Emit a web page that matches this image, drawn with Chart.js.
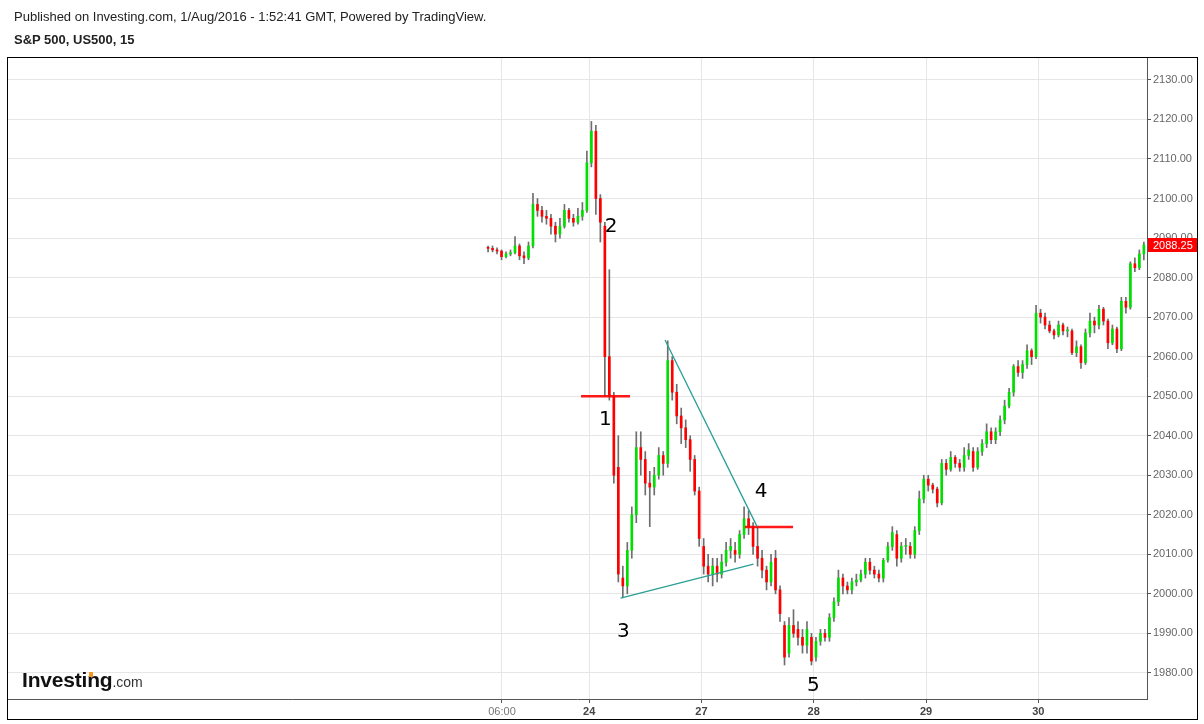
<!DOCTYPE html>
<html>
<head>
<meta charset="utf-8">
<script src="https://cdn.jsdelivr.net/npm/chart.js@4.4.1/dist/chart.umd.min.js"></script>
<style>
  body { margin: 0; background: #fff; font-family: 'Liberation Sans', Arial, sans-serif; }
  #wrap { position: relative; width: 1204px; height: 724px; }
  #chart { position: absolute; left: 0; top: 0; }
  .pub { position: absolute; left: 14px; top: 9px; font-size: 13px; color: #222; }
  .sym { position: absolute; left: 14px; top: 32px; font-size: 13px; font-weight: bold; color: #222; }
  .logo { position: absolute; left: 22px; top: 668px; font-size: 21px; font-weight: bold; color: #111; letter-spacing: -0.2px; }
  .logo span { font-size: 14px; font-weight: normal; color: #333; letter-spacing: 0; }
  .dot { position: absolute; left: 89px; top: 672px; width: 4px; height: 5px; background: #f7931e; }
</style>
</head>
<body>
<div id="wrap">
  <canvas id="chart" width="1204" height="724"></canvas>
  <div class="pub">Published on Investing.com, 1/Aug/2016 - 1:52:41 GMT, Powered by TradingView.</div>
  <div class="sym">S&amp;P 500, US500, 15</div>
  <div class="logo">Investing<span>.com</span></div>
  <div class="dot"></div>
</div>
<script>
// candles (one candle per slot)
const opens = [
  2087.5, 2087.4, 2087, 2086.7, 2085.3, 2086, 2086.3, 2088, 2085.5, 2085,
  2088, 2098.5, 2097, 2095.5, 2095, 2093, 2091, 2093, 2097, 2095,
  2094, 2095.5, 2097, 2109, 2117, 2100, 2093, 2060, 2050, 2032,
  2004, 2002, 2011, 2020, 2037, 2034, 2028, 2027, 2030, 2035,
  2033, 2059, 2051, 2045, 2042, 2039, 2034, 2026, 2012, 2007,
  2005, 2007, 2005, 2008, 2011, 2011, 2010, 2015, 2019, 2017,
  2012, 2009, 2006, 2003, 2009, 2001, 1992, 1985, 1992, 1991,
  1989, 1987, 1989, 1984, 1988, 1990, 1989, 1994, 1998, 2004,
  2002, 2001, 2003, 2003.5, 2005, 2008, 2006, 2005, 2004, 2008.5,
  2012, 2015, 2009, 2012, 2012, 2010, 2016, 2024, 2029, 2027.5,
  2026.5, 2023, 2033, 2031.5, 2034.5, 2033, 2032, 2035, 2036, 2032,
  2036, 2038, 2041, 2039, 2041, 2044, 2047.5, 2051, 2057.5, 2056,
  2058, 2061.5, 2060, 2071, 2070, 2068, 2066.5, 2065.5, 2068, 2066.5,
  2066.5, 2061, 2062.5, 2058.5, 2066, 2069, 2068, 2072, 2069, 2063.5,
  2067, 2062, 2074, 2072.5, 2083.5, 2082.5, 2086
];
const highs = [
  2088, 2088, 2087.5, 2087, 2086.5, 2087, 2090.4, 2088.5, 2086.5, 2089,
  2101.3, 2100, 2098, 2097, 2096, 2094, 2095, 2098.5, 2097.5, 2096,
  2097.5, 2099, 2112, 2119.5, 2118.5, 2101, 2094, 2082, 2051, 2040,
  2007, 2013, 2022, 2041, 2041, 2036, 2031, 2032, 2037, 2036,
  2064, 2060, 2053, 2047, 2044, 2040, 2035, 2027, 2014, 2010,
  2009, 2009, 2010, 2013, 2014, 2013, 2016, 2022, 2021, 2018,
  2017, 2011, 2007, 2010, 2011, 2002, 1993, 1994, 1996, 1993,
  1991, 1993, 1990, 1989, 1991, 1991, 1995, 1999, 2006, 2005,
  2003, 2004, 2005, 2006, 2009, 2009, 2007, 2006, 2009, 2013,
  2017, 2016, 2013, 2014, 2013, 2017, 2026, 2030, 2030, 2028,
  2027, 2034, 2034, 2036, 2035, 2034, 2037, 2038, 2037, 2037,
  2039, 2043, 2042, 2042, 2045, 2049, 2052, 2058, 2059, 2059,
  2063, 2062, 2073, 2072, 2071, 2069, 2067, 2069, 2068.5, 2067.5,
  2067, 2064, 2063, 2067, 2071, 2070, 2073, 2072.5, 2069.5, 2068,
  2067.5, 2075, 2075, 2084, 2085, 2087, 2089
];
const lows = [
  2086.5, 2086.5, 2086, 2084.5, 2085, 2085.5, 2086, 2084.5, 2083.5, 2084.5,
  2087.5, 2095.5, 2094, 2093.5, 2091, 2089, 2090, 2092.5, 2094, 2093,
  2093.5, 2094.5, 2096.5, 2108, 2096, 2089, 2050, 2049, 2028, 2003,
  1999, 2000, 2009, 2018, 2030, 2025, 2017, 2025, 2029, 2030,
  2032, 2049, 2043, 2038, 2037, 2031, 2025, 2012, 2005, 2003,
  2002, 2003, 2004, 2007, 2009, 2008, 2009, 2014, 2015, 2010,
  2007, 2004, 2001, 2002, 2000, 1993, 1982, 1984, 1989, 1987,
  1985, 1985, 1982, 1983, 1987, 1988, 1988, 1993, 1997, 2000,
  2000, 2000, 2002, 2003, 2004, 2005, 2004, 2003, 2003, 2008,
  2011, 2007, 2008, 2010, 2009, 2009, 2015, 2023, 2026, 2025.5,
  2022, 2022.5, 2030, 2031, 2032, 2031, 2031, 2034, 2031, 2031.5,
  2035, 2037, 2038, 2038, 2040, 2043, 2047, 2050, 2055, 2054.5,
  2057, 2058, 2059.5, 2068.5, 2067, 2066, 2064.5, 2065, 2065.5, 2065,
  2060.5, 2060, 2057, 2058, 2065, 2066, 2067, 2068, 2062, 2063,
  2061, 2061.5, 2071, 2072, 2081.5, 2082, 2084.5
];
const closes = [
  2087.4, 2087, 2086.7, 2085.3, 2086, 2086.3, 2088, 2085.5, 2085, 2088,
  2098.5, 2097, 2095.5, 2095, 2093, 2091, 2093, 2097, 2095, 2094,
  2095.5, 2097, 2109, 2117, 2100, 2094, 2060, 2050, 2030, 2005,
  2002, 2011, 2020, 2037, 2034, 2028, 2027, 2030, 2035, 2033,
  2059, 2051, 2045, 2042, 2039, 2034, 2026, 2014, 2007, 2005,
  2007, 2005, 2008, 2011, 2012, 2010, 2015, 2019, 2017, 2012,
  2009, 2006, 2003, 2008, 2001, 1995, 1984, 1992, 1990, 1989,
  1987, 1991, 1983, 1988, 1990, 1989, 1994, 1998, 2004, 2002,
  2001, 2003, 2003.5, 2005, 2008, 2006, 2005, 2004, 2008.5, 2012,
  2015.5, 2009, 2012, 2012, 2010, 2016, 2024, 2029, 2027.5, 2026.5,
  2023, 2033, 2031.5, 2034.5, 2033, 2032, 2035, 2036.4, 2032, 2036,
  2038, 2041, 2039, 2041, 2044, 2047.5, 2051, 2057.5, 2056, 2058,
  2061.5, 2060, 2071, 2070, 2068, 2066.5, 2065.5, 2068, 2066.5, 2066.5,
  2061, 2062.5, 2058.5, 2066, 2069, 2068, 2072, 2069, 2063.5, 2067,
  2062, 2074, 2072.5, 2083.5, 2082.5, 2086, 2088.25
];

// time axis (in candle slots)
const tickPos = [3.1, 22.5, 47.5, 72.5, 97.5, 122.5];
const tickLabels = ['06:00', '24', '27', '28', '29', '30'];
const priceTicks = [1980, 1990, 2000, 2010, 2020, 2030, 2040, 2050, 2060, 2070, 2080, 2090, 2100, 2110, 2120, 2130];

// drawings on the chart
const redLineStart = [20.7, 57.2];
const redLineEnd = [31.6, 67.9];
const redLineLevel = [2050, 2016.9];
const trendFrom = [[39.4, 2064.2], [29.5, 1998.9]];
const trendTo = [[59.9, 2017], [59.1, 2007.5]];
const waveLabels = ['1', '2', '3', '4', '5'];
const waveX = [26.1, 27.4, 30.1, 60.8, 72.4];
const waveY = [2044, 2092.8, 1990.4, 2025.8, 1976.7];

const UP = '#00e000', DOWN = '#ff0000', WICK = '#6e6e6e';
const candleColors = opens.map((o, i) => closes[i] >= o ? UP : DOWN);

const drawingsPlugin = {
  id: 'drawings',
  afterDatasetsDraw(chart) {
    const ctx = chart.ctx, xs = chart.scales.x, ys = chart.scales.y;
    ctx.save();
    ctx.strokeStyle = 'rgba(255,0,0,0.9)';
    ctx.lineWidth = 2.5;
    for (let i = 0; i < redLineLevel.length; i++) {
      ctx.beginPath();
      ctx.moveTo(xs.getPixelForValue(redLineStart[i]), ys.getPixelForValue(redLineLevel[i]));
      ctx.lineTo(xs.getPixelForValue(redLineEnd[i]), ys.getPixelForValue(redLineLevel[i]));
      ctx.stroke();
    }
    ctx.strokeStyle = 'rgb(40,160,148)';
    ctx.lineWidth = 1.3;
    for (let i = 0; i < trendFrom.length; i++) {
      ctx.beginPath();
      ctx.moveTo(xs.getPixelForValue(trendFrom[i][0]), ys.getPixelForValue(trendFrom[i][1]));
      ctx.lineTo(xs.getPixelForValue(trendTo[i][0]), ys.getPixelForValue(trendTo[i][1]));
      ctx.stroke();
    }
    ctx.fillStyle = '#000';
    ctx.font = '20px "DejaVu Sans", sans-serif';
    ctx.textAlign = 'center';
    ctx.textBaseline = 'middle';
    for (let i = 0; i < waveLabels.length; i++) {
      ctx.fillText(waveLabels[i], xs.getPixelForValue(waveX[i]), ys.getPixelForValue(waveY[i]));
    }
    ctx.restore();
  },
  afterDraw(chart) {
    const ctx = chart.ctx, ys = chart.scales.y, area = chart.chartArea;
    const last = closes[closes.length - 1];
    const y = Math.round(ys.getPixelForValue(last));
    ctx.save();
    ctx.fillStyle = '#ff0000';
    ctx.fillRect(area.right + 1, y - 7, 1197 - area.right - 1, 14);
    ctx.fillStyle = '#fff';
    ctx.font = '11px "Liberation Sans", Arial, sans-serif';
    ctx.textAlign = 'left';
    ctx.textBaseline = 'middle';
    ctx.fillText(last.toFixed(2), area.right + 6, y + 0.5);
    // outer frame
    ctx.strokeStyle = '#000';
    ctx.lineWidth = 1;
    ctx.strokeRect(7.5, 57.5, 1190, 662);
    ctx.restore();
  }
};

Chart.defaults.font.family = "'Liberation Sans', Arial, sans-serif";
Chart.defaults.font.size = 11;

new Chart(document.getElementById('chart'), {
  type: 'bar',
  data: {
    datasets: [
      {
        label: 'wick',
        data: opens.map((o, i) => ({ x: i, y: [lows[i], highs[i]] })),
        backgroundColor: WICK,
        barThickness: 1,
        grouped: false,
        order: 2
      },
      {
        label: 'body',
        data: opens.map((o, i) => ({ x: i, y: [o, closes[i]] })),
        backgroundColor: candleColors,
        barThickness: 2,
        minBarLength: 1,
        grouped: false,
        order: 1
      }
    ]
  },
  options: {
    responsive: false,
    animation: false,
    devicePixelRatio: 1,
    layout: { padding: { left: 7, top: 57, right: 7, bottom: 5 } },
    plugins: { legend: { display: false }, tooltip: { enabled: false } },
    scales: {
      x: {
        type: 'linear',
        offset: false,
        min: -107.1,
        max: 146.7,
        afterBuildTicks: (scale) => { scale.ticks = tickPos.map(v => ({ value: v })); },
        afterFit: (scale) => { scale.height = 20; },
        grid: { offset: false, color: '#e6e6e6', tickColor: '#555', tickLength: 4 },
        border: { color: '#555' },
        ticks: {
          autoSkip: false,
          maxRotation: 0,
          padding: 2,
          color: (c) => c.index === 0 ? '#777' : '#444',
          font: (c) => ({ size: 11, weight: c.index === 0 ? 'normal' : 'bold' }),
          callback: (v, i) => tickLabels[i]
        }
      },
      y: {
        position: 'right',
        min: 1973.4,
        max: 2135.8,
        afterBuildTicks: (scale) => { scale.ticks = priceTicks.map(v => ({ value: v })); },
        afterFit: (scale) => { scale.width = 50; },
        grid: { color: '#e6e6e6', tickColor: '#555', tickLength: 4 },
        border: { color: '#555' },
        ticks: {
          padding: 2,
          color: '#666',
          callback: (v) => Number(v).toFixed(2)
        }
      }
    }
  },
  plugins: [drawingsPlugin]
});
</script>
</body>
</html>
